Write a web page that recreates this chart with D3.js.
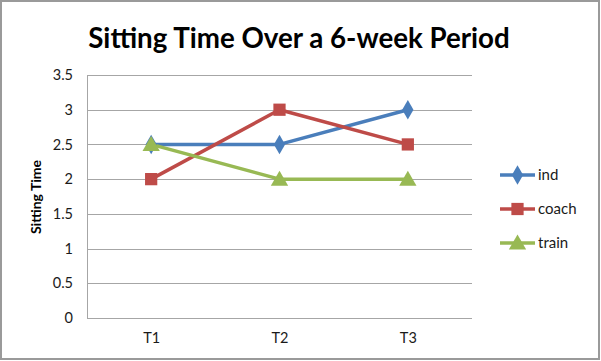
<!DOCTYPE html>
<html><head><meta charset="utf-8">
<script src="https://cdn.jsdelivr.net/npm/d3@7"></script>
<style>body{margin:0;background:#fff}svg{display:block}</style>
</head><body>
<svg id="c" width="601" height="361"></svg>
<script>
const categories = ["T1","T2","T3"];
const ind = [2.5, 2.5, 3];
const coach = [2, 3, 2.5];
const train = [2.5, 2, 2];
const yTicks = [0,0.5,1,1.5,2,2.5,3,3.5];
const seriesNames = ["ind","coach","train"];
const seriesColors = ["#4A7EBB","#BE4B48","#98B954"];
const series = [ind, coach, train];

const svg = d3.select("#c");
const font = "Lato, 'Open Sans', sans-serif";
svg.append("rect").attr("x",1).attr("y",1).attr("width",598).attr("height",358)
  .attr("fill","#fff").attr("stroke","#9a9a9a").attr("stroke-width",2);

const L=87, R=472, T=75, B=318;
const x = d3.scalePoint().domain(categories).range([L,R]).padding(0.5);
const y = d3.scaleLinear().domain([0,3.5]).range([B,T]);

svg.append("text").attr("x",299).attr("y",48).attr("text-anchor","middle")
  .attr("font-family",font).attr("font-weight","bold").attr("font-size",27.7)
  .attr("fill","#000").text("Sitting Time Over a 6-week Period");

const g = svg.append("g");
g.selectAll("line.grid").data(yTicks).join("line").attr("class","grid")
  .attr("x1",L).attr("x2",R).attr("y1",d=>Math.round(y(d))+0.5).attr("y2",d=>Math.round(y(d))+0.5)
  .attr("stroke","#a6a6a6").attr("stroke-width",1);
g.append("line").attr("x1",L+0.5).attr("x2",L+0.5).attr("y1",T).attr("y2",B)
  .attr("stroke","#a6a6a6");

const yAxis = svg.append("g").attr("transform",`translate(${L},0)`)
  .call(d3.axisLeft(y).tickValues(yTicks).tickSize(0).tickPadding(14).tickFormat(d=>String(d)));
yAxis.select(".domain").remove();
yAxis.selectAll("text").attr("font-family",font).attr("font-size",14.5).attr("fill","#1a1a1a");

const xAxis = svg.append("g").attr("transform",`translate(0,${B})`)
  .call(d3.axisBottom(x).tickSize(0).tickPadding(15));
xAxis.select(".domain").remove();
xAxis.selectAll("text").attr("font-family",font).attr("font-size",14.5).attr("fill","#1a1a1a");

svg.append("text").attr("transform","translate(41,197) rotate(-90)").attr("text-anchor","middle")
  .attr("font-family",font).attr("font-weight","bold").attr("font-size",14).attr("fill","#000").text("Sitting Time");

const symTypes = [d3.symbolDiamond, d3.symbolSquare, d3.symbolTriangle];
const symSizes = [110, 150, 130];
const line = d3.line().x((d,i)=>x(categories[i])).y(d=>y(d));
series.forEach((s,k)=>{
  svg.append("path").attr("d",line(s)).attr("fill","none").attr("stroke",seriesColors[k])
    .attr("stroke-width",3.5).attr("stroke-linejoin","round");
});
series.forEach((s,k)=>{
  svg.selectAll(null).data(s).join("path")
    .attr("transform",(d,i)=>`translate(${x(categories[i])},${y(d)+(k===2?1.5:0)})`)
    .attr("d",d3.symbol().type(symTypes[k]).size(symSizes[k]))
    .attr("fill",seriesColors[k]);
});

const legY = [175,209,243];
seriesNames.forEach((n,k)=>{
  const lg = svg.append("g").attr("transform",`translate(500,${legY[k]})`);
  lg.append("line").attr("x1",0).attr("x2",35).attr("stroke",seriesColors[k]).attr("stroke-width",3.5);
  lg.append("path").attr("transform",`translate(17.5,${k===2?1.5:0})`)
    .attr("d",d3.symbol().type(symTypes[k]).size(symSizes[k])).attr("fill",seriesColors[k]);
  lg.append("text").attr("x",38).attr("y",5).attr("font-family",font).attr("font-size",15)
    .attr("fill","#1a1a1a").text(n);
});
</script>
</body></html>
